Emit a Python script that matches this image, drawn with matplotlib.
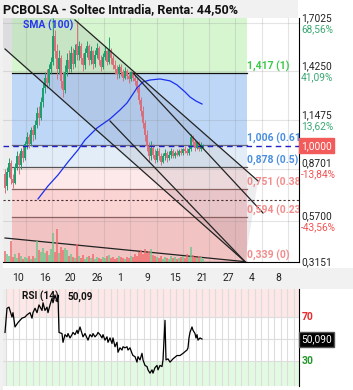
import numpy as np
import matplotlib.pyplot as plt
import matplotlib.transforms as mtransforms
from matplotlib.patches import Rectangle, Polygon

plt.rcParams['font.family'] = ['Roboto', 'DejaVu Sans']

# ---- datos del grafico ----
title = 'PCBOLSA - Soltec Intradia, Renta: 44,50%'

opens = [0.84, 0.77, 0.85, 0.90, 0.81, 0.79, 0.88, 0.94, 0.89, 0.97,
         0.93, 1.01, 1.05, 1.01, 1.09, 1.06, 1.12, 1.19, 1.16, 1.25,
         1.33, 1.39, 1.36, 1.44, 1.48, 1.63, 1.54, 1.44, 1.50, 1.37,
         1.32, 1.42, 1.49, 1.44, 1.53, 1.47, 1.58, 1.52, 1.57, 1.50,
         1.46, 1.53, 1.57, 1.49, 1.54, 1.47, 1.52, 1.56, 1.49, 1.45,
         1.51, 1.54, 1.48, 1.55, 1.50, 1.46, 1.44, 1.41, 1.45, 1.42,
         1.39, 1.43, 1.40, 1.38, 1.42, 1.39, 1.37, 1.33, 1.26, 1.20,
         1.13, 1.06, 1.00, 0.94, 0.99, 0.95, 0.92, 0.97, 0.94, 0.91,
         0.94, 0.96, 0.93, 0.95, 0.97, 0.94, 0.96, 0.95, 0.97, 0.96,
         0.98, 0.97, 0.96, 0.98, 1.05, 1.02, 0.99, 1.02, 0.98, 1.00]
closes = [0.76, 0.85, 0.90, 0.81, 0.79, 0.88, 0.94, 0.89, 0.97, 0.93,
          1.01, 1.05, 1.01, 1.09, 1.06, 1.12, 1.19, 1.16, 1.25, 1.33,
          1.39, 1.36, 1.44, 1.48, 1.63, 1.54, 1.44, 1.50, 1.37, 1.32,
          1.42, 1.49, 1.44, 1.53, 1.47, 1.55, 1.52, 1.57, 1.50, 1.46,
          1.53, 1.57, 1.49, 1.54, 1.47, 1.52, 1.56, 1.49, 1.45, 1.51,
          1.54, 1.48, 1.55, 1.50, 1.46, 1.44, 1.41, 1.45, 1.42, 1.39,
          1.43, 1.40, 1.38, 1.42, 1.39, 1.37, 1.33, 1.26, 1.20, 1.13,
          1.06, 1.00, 0.94, 0.99, 0.95, 0.92, 0.97, 0.94, 0.91, 0.94,
          0.96, 0.93, 0.95, 0.97, 0.94, 0.96, 0.95, 0.97, 0.96, 0.98,
          0.97, 0.96, 0.98, 1.05, 1.02, 0.99, 1.02, 0.98, 1.00, 1.00]
highs = [0.87, 0.88, 0.93, 0.92, 0.84, 0.90, 0.97, 0.96, 0.99, 1.00,
         1.03, 1.08, 1.07, 1.11, 1.12, 1.15, 1.22, 1.23, 1.28, 1.36,
         1.42, 1.44, 1.47, 1.51, 1.73, 1.66, 1.58, 1.55, 1.52, 1.42,
         1.46, 1.53, 1.55, 1.57, 1.56, 1.58, 1.71, 1.60, 1.59, 1.53,
         1.56, 1.60, 1.58, 1.57, 1.55, 1.55, 1.59, 1.57, 1.52, 1.53,
         1.57, 1.55, 1.62, 1.56, 1.52, 1.49, 1.46, 1.47, 1.47, 1.44,
         1.45, 1.44, 1.42, 1.43, 1.43, 1.41, 1.39, 1.35, 1.28, 1.23,
         1.15, 1.09, 1.02, 1.03, 1.01, 0.98, 0.99, 0.99, 0.96, 0.96,
         0.98, 0.97, 0.97, 0.99, 0.98, 0.97, 0.98, 0.98, 0.99, 0.99,
         1.00, 0.99, 1.00, 1.07, 1.06, 1.04, 1.03, 1.03, 1.02, 1.01]
lows = [0.73, 0.75, 0.82, 0.78, 0.76, 0.78, 0.86, 0.84, 0.87, 0.91,
        0.92, 0.98, 0.99, 1.00, 1.03, 1.04, 1.10, 1.12, 1.15, 1.22,
        1.30, 1.33, 1.34, 1.41, 1.46, 1.50, 1.38, 1.41, 1.33, 1.28,
        1.30, 1.40, 1.42, 1.42, 1.44, 1.45, 1.49, 1.49, 1.47, 1.43,
        1.44, 1.51, 1.46, 1.47, 1.44, 1.45, 1.50, 1.46, 1.43, 1.44,
        1.49, 1.46, 1.47, 1.47, 1.44, 1.41, 1.38, 1.39, 1.40, 1.37,
        1.38, 1.38, 1.36, 1.37, 1.37, 1.35, 1.31, 1.24, 1.17, 1.10,
        1.03, 0.97, 0.91, 0.92, 0.93, 0.90, 0.91, 0.92, 0.89, 0.90,
        0.92, 0.91, 0.92, 0.93, 0.93, 0.93, 0.94, 0.94, 0.95, 0.95,
        0.96, 0.95, 0.95, 0.97, 1.00, 0.97, 0.98, 0.97, 0.97, 0.99]
volumes = [11, 8, 6, 21, 5, 8, 4, 9, 6, 3, 5, 4, 6, 3, 6, 4, 21, 12, 10, 14,
           9, 11, 7, 13, 29, 10, 33, 9, 15, 12, 14, 12, 6, 8, 5, 4, 18, 6, 4, 7,
           3, 5, 6, 4, 8, 3, 5, 4, 3, 5, 4, 6, 7, 4, 5, 3, 4, 6, 5, 4,
           3, 5, 4, 6, 5, 8, 6, 10, 12, 8, 13, 9, 11, 13, 7, 6, 5, 4, 6, 3,
           5, 4, 3, 6, 4, 5, 3, 4, 5, 6, 4, 8, 5, 15, 7, 5, 4, 6, 5, 3]

sma_x = [16.5, 21.5, 26.5, 31.5, 36.5, 40, 46, 52.5, 57.5, 61, 66, 69, 72.5,
         77.5, 82.5, 86, 90, 92.5, 95.5, 98.5]
sma = [0.697, 0.771, 0.834, 0.908, 0.977, 1.034, 1.102, 1.154, 1.205, 1.245,
       1.331, 1.365, 1.376, 1.382, 1.371, 1.348, 1.308, 1.279, 1.256, 1.239]

# niveles de fibonacci
fib_levels = [1.417, 1.006, 0.878, 0.751, 0.594, 0.339]
fib_labels = ['1,417 (1)', '1,006 (0.618)', '0,878 (0.5)', '0,751 (0.382)',
              '0,594 (0.236)', '0,339 (0)']
fib_start, fib_end = 3.5, 121

# lineas de tendencia: (x0, y0, x1, y1)
trend_lines = [(0, 1.553, 120, 0.339),
               (35, 1.719, 126.5, 0.800),
               (64, 1.416, 129, 0.617),
               (52.5, 1.142, 120, 0.339),
               (0, 0.474, 120, 0.339)]
channel_x = [-1, 120, 126.5, -1]
channel_y = [1.563, 0.339, 0.800, 2.08]

last_price = 1.0
buy_price = 0.692

axis_prices = [1.7025, 1.4250, 1.1475, 0.8701, 0.5700]
axis_pcts = ['68,56%', '41,09%', '13,62%', '-13,84%', '-43,56%']
bottom_price = 0.3151

date_pos = [6.5, 20, 32.5, 46, 57.5, 71, 85, 98.5, 111.5, 123.5, 136.5]
date_labels = ['10', '16', '20', '26', '1', '9', '15', '21', '27', '4', '8']
grid_pos = [10.5, 23.5, 36.5, 49.5, 62.5, 76, 89, 102, 115, 128.5, 141.5]

rsi_x = [0, 1, 2, 3.5, 4, 5, 6.5, 8.5, 10, 11, 12.5, 13.5, 14, 15, 16, 17, 18.5,
         19, 20, 21, 21.5, 22.5, 23.5, 24, 25, 26, 26.5, 27, 28.5, 29, 30, 31,
         31.5, 32.5, 33.5, 34, 35, 36, 36.5, 37.5, 38.5, 39, 40, 41, 41.5, 42.5,
         43.5, 44, 45, 46, 46.5, 47.5, 48.5, 49, 50, 51, 51.5, 52.5, 53.5, 54,
         55, 56, 56.5, 57.5, 58.5, 59, 60, 61, 61.5, 62.5, 63.5, 64, 65, 66,
         66.5, 67.5, 68.5, 69, 70, 71, 71.5, 72.5, 73.5, 74, 75, 76, 76.5, 77.5,
         78.5, 79, 80, 80.5, 81.5, 82.5, 84, 86, 87.5, 89, 91, 91.5, 92, 92.5,
         93.5, 94, 95, 95.5, 96, 96.5, 97.5, 98.5]
rsi = [56, 78, 79, 70, 74, 61, 65, 69, 70, 72, 74, 69, 74, 78, 74, 81, 76,
       83, 76, 79, 74, 81, 87, 83, 90, 84, 90, 56, 55, 47, 54, 52,
       55, 51, 54, 56, 54, 58, 55, 61, 55, 52, 55, 51, 49, 54,
       52, 55, 52, 54, 56, 54, 51, 54, 49, 52, 47, 51, 46, 51,
       43, 47, 38, 42, 40, 43, 42, 43, 40, 42, 37, 35, 34, 29,
       34, 31, 37, 31, 26, 25, 22, 19, 22, 19, 24, 26, 22, 26,
       25, 31, 67, 31, 32, 29, 32, 35, 35, 37, 40, 42, 51, 56,
       61, 58, 55, 51, 54, 49, 51, 50]
rsi_last = '50,090'

# ---- figura ----
W, H = 353, 390
fig = plt.figure(figsize=(W / 100, H / 100), dpi=100)
fig.patch.set_facecolor('white')


def box(x0, y0, x1, y1):
    return [x0 / W, 1 - y1 / H, (x1 - x0) / W, (y1 - y0) / H]


# fondos grises (barra de titulo, fechas, margen izquierdo)
for x0, y0, x1, y1 in [(0, 0, 298, 18), (0, 268, 353, 289), (0, 18, 3, 390)]:
    fig.patches.append(Rectangle((x0 / W, 1 - y1 / H), (x1 - x0) / W, (y1 - y0) / H,
                                 transform=fig.transFigure, facecolor='#f1f1f1',
                                 edgecolor='none', zorder=-5))
fig.text(3 / W, 1 - 10 / H, title, fontsize=9, fontweight='bold', va='center', color='#111')

ax = fig.add_axes(box(3, 18, 299, 262))
ax.set_xlim(-1, 147)
ax.set_ylim(0.337, 1.73)

# zonas de fibonacci
zone_bounds = [1.73] + fib_levels[:-1] + [0.337]
zone_colors = ['#d6f6d0', '#bed7f7', '#e3edf8', '#fde9e9', '#fad3d3', '#f2c3c3']
for hi, lo, c in zip(zone_bounds[:-1], zone_bounds[1:], zone_colors):
    ax.fill_between([fib_start, fib_end], lo, hi, color=c, lw=0, zorder=0)
ax.axvspan(-1, fib_start, color='#eeeeee', lw=0, zorder=0)
ax.add_patch(Polygon(list(zip(channel_x, channel_y)), closed=True, facecolor='#3a3a5a',
                     alpha=0.09, edgecolor='none', zorder=1))

for g in grid_pos:
    ax.axvline(g, color='#888888', alpha=0.22, lw=0.8, zorder=1)
for p in axis_prices:
    ax.axhline(p, color='#888888', alpha=0.22, lw=0.8, zorder=1)

fib_line_colors = ['#111111', '#6b6b7b', '#555555', '#8a6262', '#8a6262', '#111111']
fib_text_colors = ['#3ec94a', '#4a8fe0', '#4a8fe0', '#f28c8c', '#f28c8c', '#f28c8c']
for lev, lab, lc, tc in zip(fib_levels, fib_labels, fib_line_colors, fib_text_colors):
    ax.plot([fib_start, fib_end], [lev, lev], color=lc, lw=0.9, zorder=2)
    ax.text(fib_end + 0.2, lev + 0.006, lab, color=tc, fontsize=7.5, fontweight='bold',
            va='bottom', ha='left', zorder=6, clip_on=True)

ax.axhline(last_price, color='#1f1fc8', lw=1, ls=(0, (4, 3)), zorder=4)
ax.axhline(buy_price, color='#4a3030', lw=0.8, ls=(0, (2, 2)), zorder=4)

# velas
x = np.arange(len(closes))
o = np.array(opens)
c = np.array(closes)
up = c >= o
col = np.where(up, '#1f9e6e', '#d8707c')
ax.vlines(x, lows, highs, colors=col, lw=0.7, zorder=3)
body = np.maximum(np.abs(c - o), 0.006)
ax.bar(x, body, bottom=np.minimum(o, c), width=0.75, color=col, lw=0, zorder=3)

ax.plot(sma_x, sma, color='#1a2ff0', lw=0.9, zorder=3.5)
ax.text(9, 1.67, 'SMA (100)', color='#2437f0', fontsize=7.5, fontweight='bold', zorder=6)

for x0, y0, x1, y1 in trend_lines:
    ax.plot([x0, x1], [y0, y1], color='#222222', lw=0.9, zorder=4)

# volumen
axv = ax.twinx()
axv.set_ylim(0, 245)
vcol = np.where(up, '#6cc58a', '#f06868')
axv.bar(x, volumes, width=0.75, color=vcol, alpha=0.75, lw=0)
axv.axis('off')

ax.set_xticks(date_pos)
ax.set_xticklabels(date_labels)
ax.tick_params(axis='x', length=0, pad=8, labelsize=7.5, labelcolor='#222222')
ax.set_yticks([])
for s in ['top', 'left']:
    ax.spines[s].set_visible(False)
ax.spines['right'].set_color('black')
ax.spines['bottom'].set_color('black')

# etiquetas de precio a la derecha
trans = mtransforms.blended_transform_factory(ax.transAxes, ax.transData)
for p, pct in zip(axis_prices, axis_pcts):
    pc = '#3aa873' if not pct.startswith('-') else '#f05252'
    ax.annotate(f'{p:.4f}'.replace('.', ','), xy=(1, p), xycoords=trans,
                xytext=(1.5, 3.6), textcoords='offset points', va='center',
                fontsize=7.3, color='#222222', annotation_clip=False)
    ax.annotate(pct, xy=(1, p), xycoords=trans, xytext=(1.5, -4.3),
                textcoords='offset points', va='center', fontsize=7.3, color=pc,
                annotation_clip=False)
ax.annotate(f'{bottom_price:.4f}'.replace('.', ','), xy=(1, 0), xycoords='axes fraction',
            xytext=(1.5, -0.5), textcoords='offset points', va='center', fontsize=7.3,
            color='#222222', annotation_clip=False)
ax.annotate(f'{last_price:.4f}'.replace('.', ','), xy=(1, last_price), xycoords=trans,
            xytext=(1.5, 0), textcoords='offset points', va='center', fontsize=7.3,
            color='white', annotation_clip=False,
            bbox=dict(boxstyle='square,pad=0.25', facecolor='#f35a5a', edgecolor='#f35a5a'))

# ---- RSI ----
ar = fig.add_axes(box(3, 289, 299, 386))
ar.set_xlim(-1, 147)
ar.set_ylim(7.3, 95.5)
ar.axhspan(70, 100, color='#fde7e7', lw=0, zorder=0)
ar.axhspan(0, 30, color='#e3fae2', lw=0, zorder=0)
ar.axvspan(-1, 1, color='#eeeeee', lw=0, zorder=0)
for g in np.arange(10.5 - 3 * 3.265, 147, 3.265):
    ar.axvline(g, color='#dddddd', lw=0.8, zorder=1)
for h in [70, 50, 30]:
    ar.axhline(h, color='#dddddd', lw=0.8, zorder=1)
ar.plot(rsi_x, rsi, color='black', lw=0.9, zorder=3)
ar.text(8.5, 88.5, 'RSI (14)', fontsize=7.2, fontweight='bold', va='center', color='#111')
ar.text(31.5, 88.5, rsi_last[:-1], fontsize=7.2, fontweight='bold', va='center', color='#111')
ar.set_xticks([])
ar.set_yticks([])
for s in ['top', 'left', 'bottom']:
    ar.spines[s].set_visible(False)
ar.spines['right'].set_color('black')
rt = mtransforms.blended_transform_factory(ar.transAxes, ar.transData)
ar.text(1.01, 70, '70', transform=rt, color='#e82a2a', fontsize=7.5, fontweight='bold',
        va='center')
ar.text(1.01, 30, '30', transform=rt, color='#22992a', fontsize=7.5, fontweight='bold',
        va='center')
ar.annotate(rsi_last, xy=(1, 50), xycoords=rt, xytext=(1.5, 0), textcoords='offset points',
            va='center', fontsize=7.3, color='white', annotation_clip=False,
            bbox=dict(boxstyle='square,pad=0.25', facecolor='black', edgecolor='#555555'))

fig.savefig('out.png', dpi=100)
